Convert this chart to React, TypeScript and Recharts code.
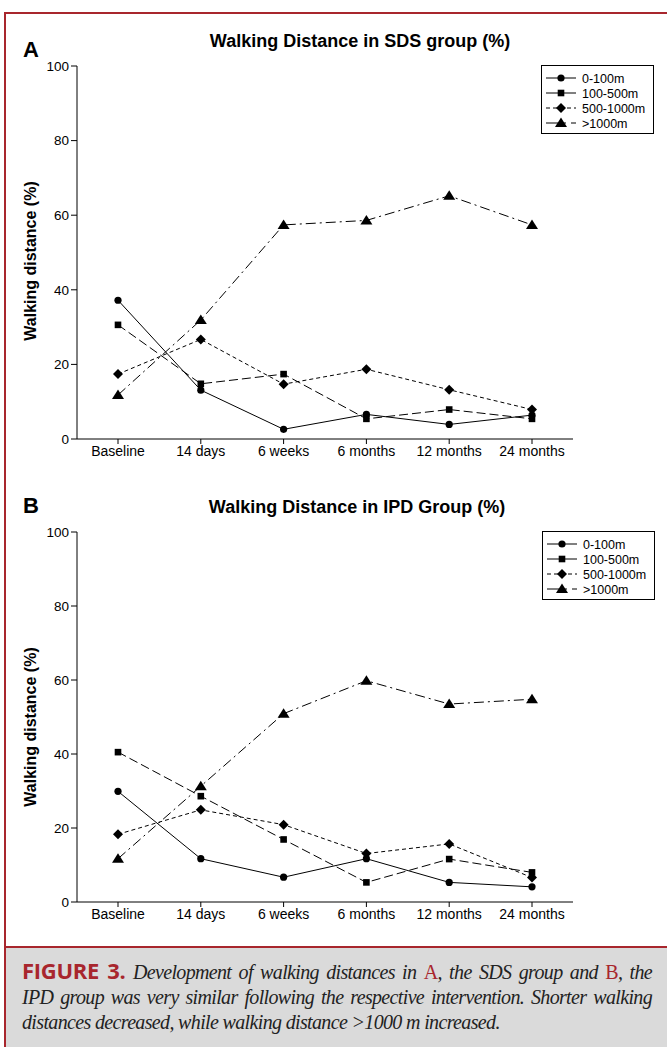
import { LineChart, Line, XAxis, YAxis } from 'recharts';

// time points on the x axis
const timepoints = ['Baseline', '14 days', '6 weeks', '6 months', '12 months', '24 months'];
const bandNames = ['0-100m', '100-500m', '500-1000m', '>1000m'];

// panel A - SDS group (%)
const sds0to100 = [37.2, 13.1, 2.6, 6.6, 3.9, 6.4];
const sds100to500 = [30.6, 14.8, 17.4, 5.4, 7.9, 5.4];
const sds500to1000 = [17.4, 26.7, 14.7, 18.7, 13.2, 7.9];
const sdsOver1000 = [11.8, 31.9, 57.4, 58.6, 65.2, 57.4];

// panel B - IPD group (%)
const ipd0to100 = [29.9, 11.7, 6.7, 11.7, 5.3, 4.1];
const ipd100to500 = [40.5, 28.6, 16.9, 5.3, 11.6, 8.0];
const ipd500to1000 = [18.3, 24.9, 20.9, 13.1, 15.7, 6.6];
const ipdOver1000 = [11.7, 31.3, 50.9, 59.8, 53.5, 54.8];

const yTicks = [0, 20, 40, 60, 80, 100];

const RED = '#a8262d';
const SANS = '"Liberation Sans", Arial, sans-serif';

type Shape = 'circle' | 'square' | 'diamond' | 'triangle';

const seriesStyle: { key: string; shape: Shape; dash?: string }[] = [
  { key: 's0', shape: 'circle' },
  { key: 's1', shape: 'square', dash: '9 4' },
  { key: 's2', shape: 'diamond', dash: '4 3' },
  { key: 's3', shape: 'triangle', dash: '10 4 2 4' },
];

function Marker({ cx, cy, shape }: { cx?: number; cy?: number; shape: Shape }) {
  if (cx == null || cy == null) return <g />;
  if (shape === 'circle') return <circle cx={cx} cy={cy} r={3.6} fill="#000" />;
  if (shape === 'square')
    return <rect x={cx - 3.3} y={cy - 3.3} width={6.6} height={6.6} fill="#000" />;
  if (shape === 'diamond')
    return (
      <polygon
        points={`${cx},${cy - 5} ${cx + 5},${cy} ${cx},${cy + 5} ${cx - 5},${cy}`}
        fill="#000"
      />
    );
  return (
    <polygon
      points={`${cx},${cy - 5.5} ${cx + 6},${cy + 4} ${cx - 6},${cy + 4}`}
      fill="#000"
    />
  );
}

function buildRows(series: number[][]) {
  return timepoints.map((t, i) => ({
    t,
    s0: series[0][i],
    s1: series[1][i],
    s2: series[2][i],
    s3: series[3][i],
  }));
}

function LegendBox({ left, top }: { left: number; top: number }) {
  return (
    <svg
      width={114}
      height={69}
      style={{ position: 'absolute', left, top, overflow: 'visible' }}
    >
      <rect x={0.5} y={0.5} width={112} height={68} fill="#fff" stroke="#000" strokeWidth={1} />
      {bandNames.map((name, i) => {
        const y = 13 + i * 15;
        const st = seriesStyle[i];
        return (
          <g key={name}>
            <line
              x1={5}
              x2={35}
              y1={y}
              y2={y}
              stroke="#000"
              strokeWidth={1}
              strokeDasharray={st.shape === 'diamond' ? '4 3' : st.shape === 'triangle' ? '12 5 3 5' : undefined}
            />
            <Marker cx={20} cy={y} shape={st.shape} />
            <text x={41} y={y + 4.5} fontSize={12.5} fontFamily={SANS} fill="#000">
              {name}
            </text>
          </g>
        );
      })}
    </svg>
  );
}

function Panel({
  top,
  letter,
  title,
  series,
  bottomMargin,
  legendLeft,
  legendTop,
  titleX,
}: {
  top: number;
  letter: string;
  title: string;
  series: number[][];
  bottomMargin: number;
  legendLeft: number;
  legendTop: number;
  titleX: number;
}) {
  const rows = buildRows(series);
  return (
    <div style={{ position: 'absolute', left: 0, top, width: 667, height: 470 }}>
      <LineChart
        width={667}
        height={470}
        data={rows}
        margin={{ top: 66, right: 94, left: 37, bottom: bottomMargin }}
      >
        <XAxis
          dataKey="t"
          padding={{ left: 41, right: 41 }}
          stroke="#000"
          tickSize={5}
          tick={{ fontSize: 14, fill: '#000', fontFamily: SANS }}
          height={30}
          interval={0}
        />
        <YAxis
          domain={[0, 100]}
          ticks={yTicks}
          width={40}
          stroke="#000"
          tickSize={6}
          tick={{ fontSize: 13.5, fill: '#000', fontFamily: SANS }}
          interval={0}
        />
        {seriesStyle.map((st) => (
          <Line
            key={st.key}
            dataKey={st.key}
            type="linear"
            stroke="#000"
            strokeWidth={1}
            strokeDasharray={st.dash}
            isAnimationActive={false}
            dot={(p: any) => <Marker key={`${st.key}-${p.index}`} cx={p.cx} cy={p.cy} shape={st.shape} />}
            activeDot={false}
          />
        ))}
      </LineChart>
      <svg
        width={667}
        height={470}
        style={{ position: 'absolute', left: 0, top: 0, pointerEvents: 'none' }}
      >
        <text x={23} y={top === 0 ? 57 : 47} fontSize={22} fontWeight="bold" fontFamily={SANS} fill="#000">
          {letter}
        </text>
        <text
          x={titleX}
          y={47}
          textAnchor="middle"
          fontSize={18}
          fontWeight="bold"
          fontFamily={SANS}
          fill="#000"
        >
          {title}
        </text>
        <text
          transform={`translate(36, 261) rotate(-90)`}
          textAnchor="middle"
          fontSize={16}
          fontWeight="bold"
          fontFamily={SANS}
          fill="#000"
        >
          Walking distance (%)
        </text>
      </svg>
      <LegendBox left={legendLeft} top={legendTop} />
    </div>
  );
}

export default function App() {
  return (
    <div
      style={{
        position: 'absolute',
        left: 0,
        top: 0,
        width: 667,
        height: 1047,
        background: '#fff',
        overflow: 'hidden',
      }}
    >
      {/* frame */}
      <div style={{ position: 'absolute', left: 4, top: 12, width: 663, height: 2, background: RED }} />
      <div style={{ position: 'absolute', left: 4, top: 12, width: 2, height: 1035, background: RED }} />

      <Panel
        top={0}
        letter="A"
        title="Walking Distance in SDS group (%)"
        series={[sds0to100, sds100to500, sds500to1000, sdsOver1000]}
        bottomMargin={1}
        legendLeft={541}
        legendTop={65}
        titleX={360}
      />
      <Panel
        top={466}
        letter="B"
        title="Walking Distance in IPD Group (%)"
        series={[ipd0to100, ipd100to500, ipd500to1000, ipdOver1000]}
        bottomMargin={4}
        legendLeft={542}
        legendTop={65}
        titleX={357}
      />

      {/* caption */}
      <div
        style={{
          position: 'absolute',
          left: 6,
          top: 946,
          width: 661,
          height: 101,
          background: '#dadada',
          borderTop: `2px solid ${RED}`,
          boxSizing: 'border-box',
        }}
      >
        <div
          style={{
            position: 'absolute',
            left: 16,
            top: 10,
            width: 630,
            fontFamily: '"Liberation Serif", "Times New Roman", serif',
            fontStyle: 'italic',
            fontSize: 20,
            letterSpacing: -0.65,
            lineHeight: '25px',
            color: '#222',
          }}
        >
          <div style={{ textAlign: 'justify', textAlignLast: 'justify' }}>
            <span
              style={{
                fontFamily: '"Open Sans", sans-serif',
                fontStyle: 'normal',
                fontWeight: 700,
                fontSize: 22,
                color: RED,
                letterSpacing: -0.3,
              }}
            >
              FIGURE 3.
            </span>{' '}
            Development of walking distances in{' '}
            <span style={{ fontStyle: 'normal', color: RED }}>A</span>, the SDS group and{' '}
            <span style={{ fontStyle: 'normal', color: RED }}>B</span>, the
          </div>
          <div style={{ textAlign: 'justify', textAlignLast: 'justify' }}>
            IPD group was very similar following the respective intervention. Shorter walking
          </div>
          <div>distances decreased, while walking distance &gt;1000 m increased.</div>
        </div>
      </div>
    </div>
  );
}
